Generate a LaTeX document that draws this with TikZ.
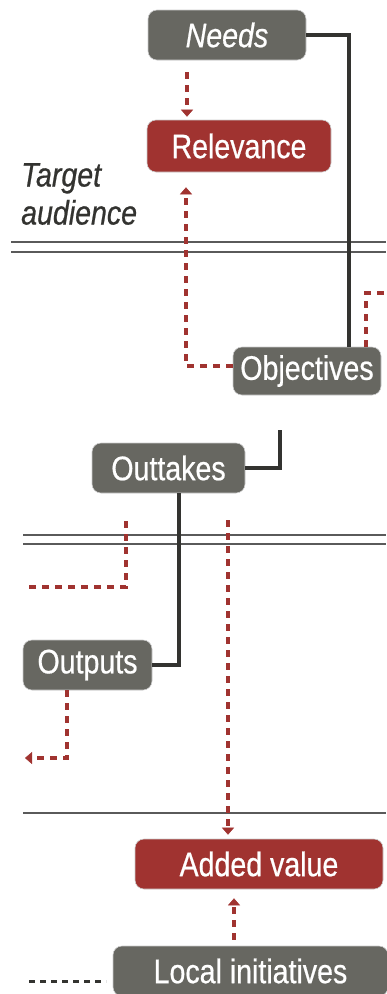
\documentclass[tikz,border=0pt]{standalone}
\usepackage{fontspec}
\setmainfont[FakeStretch=0.84,FakeBold=0.6]{Liberation Sans}
\usetikzlibrary{arrows.meta}
\definecolor{boxgray}{HTML}{676761}
\definecolor{boxred}{HTML}{A03330}
\definecolor{linkdark}{HTML}{333330}
\definecolor{rulegray}{HTML}{5A5A5A}
\tikzset{
  box/.style={rounded corners=9pt, draw=black!20, line width=0.6pt, text=white,
    font=\fontsize{34}{38}\selectfont, inner sep=0pt, anchor=center},
  graybox/.style={box, fill=boxgray},
  redbox/.style={box, fill=boxred},
  link/.style={draw=linkdark, line width=3.5pt},
  flow/.style={draw=boxred, line width=4pt, dash pattern=on 7pt off 6pt},
  tip/.style={-{Triangle[width=12pt,length=7pt,fill=boxred,line width=0.5pt]}},
  rule/.style={draw=rulegray, line width=1.5pt},
  legend/.style={draw=linkdark, line width=3pt, dash pattern=on 6pt off 5pt}
}
\begin{document}
\begin{tikzpicture}[x=1pt,y=-1pt]
\useasboundingbox (0,0) rectangle (386,994);

% section rules
\draw[rule] (11,242) -- (386,242);
\draw[rule] (11,252) -- (386,252);
\draw[rule] (23,535) -- (386,535);
\draw[rule] (23,544) -- (386,544);
\draw[rule] (23,813) -- (386,813);

% boxes
\node[graybox, minimum width=158pt, minimum height=50pt] (needs) at (227,35) {\itshape Needs};
\node[redbox, minimum width=184pt, minimum height=52pt] (rel) at (239,146) {Relevance};
\node[graybox, minimum width=148pt, minimum height=48pt] (obj) at (307,371) {Objectives};
\node[graybox, minimum width=153pt, minimum height=50pt] (outt) at (168.5,468) {Outtakes};
\node[graybox, minimum width=129pt, minimum height=50pt] (outp) at (87.5,665) {Outputs};
\node[redbox, minimum width=248pt, minimum height=50pt] (added) at (259,864) {Added value};
\node[graybox, minimum width=275pt, minimum height=50pt] (local) at (250.5,971) {Local initiatives};

\node[anchor=west, align=left, text=linkdark, font=\fontsize{34}{38}\selectfont\itshape, inner sep=0pt] (ta) at (21,194) {Target\\audience};

% free ends
\coordinate (objin) at (349,347);
\coordinate (objout) at (280,430);
\coordinate (exitr) at (388,293);
\coordinate (leftA) at (28,587);
\coordinate (topA) at (126,521);
\coordinate (topB) at (228,520);
\coordinate (leftB) at (25,758);
\coordinate (legA) at (29,981);
\coordinate (legB) at (106,981);

% solid links
\draw[link] (needs.east) -| (objin);
\draw[link] (objout) |- (outt.east);
\draw[link] ([xshift=10.5pt]outt.south) |- (outp.east);

% dotted flows (shifts are in page direction: positive yshift is upward)
\draw[flow, tip] ([xshift=-40pt,yshift=-12pt]needs.south) -- ([xshift=-52pt,yshift=3pt]rel.north);
\draw[flow, tip] ([yshift=5pt]obj.west) -| ([xshift=-53pt,yshift=-15pt]rel.south);
\draw[flow] ([xshift=59pt]obj.north) |- (exitr);
\draw[flow] (topA) |- (leftA);
\draw[flow, tip] (topB) -- ([xshift=-31pt,yshift=4pt]added.north);
\draw[flow, tip] ([xshift=-20.5pt]outp.south) |- (leftB);
\draw[flow, tip] ([xshift=-16.5pt,yshift=6pt]local.north) -- ([xshift=-25pt,yshift=-9pt]added.south);

% legend stub
\draw[legend] (legA) -- (legB);
\end{tikzpicture}
\end{document}
